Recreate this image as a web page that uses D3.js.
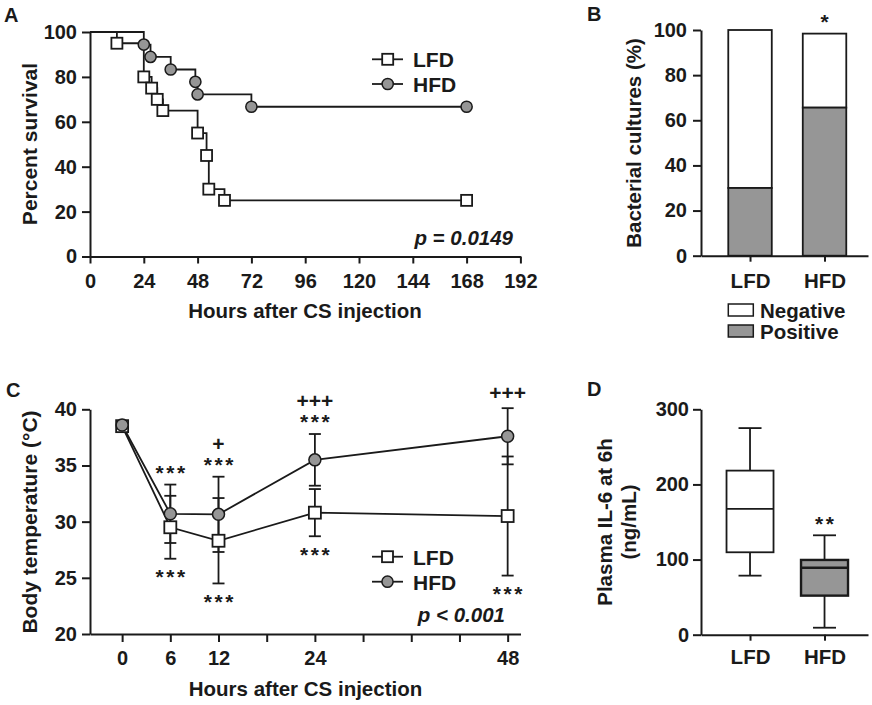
<!DOCTYPE html>
<html><head><meta charset="utf-8">
<script src="https://cdn.jsdelivr.net/npm/d3@7"></script>
<style>
body{margin:0;background:#fff;}
svg text{font-family:"Liberation Sans",Arial,Helvetica,sans-serif;font-weight:bold;fill:#1a1a1a;}
</style></head><body>
<svg id="chart" width="872" height="705"></svg>
<script>
// ---------- Panel A: survival ----------
const survLFDHours = [0, 12, 24, 27.5, 30, 32.5, 48, 52, 53, 60, 168];
const survLFDPct   = [100, 95, 80, 75, 70, 65, 55, 45, 30, 25, 25];
const survHFDHours = [0, 24, 27, 36, 47, 48, 72, 168];
const survHFDPct   = [100, 94.4, 88.9, 83.3, 77.8, 72.2, 66.7, 66.7];
const survTicksX = [0, 24, 48, 72, 96, 120, 144, 168, 192];
const survTicksY = [0, 20, 40, 60, 80, 100];
const survP = "p = 0.0149";

// ---------- Panel B: bacterial cultures ----------
const cultureGroups = ["LFD", "HFD"];
const culturePositive = [30, 65.6];
const cultureNegative = [70, 32.8];
const cultureTicksY = [0, 20, 40, 60, 80, 100];
const cultureSig = ["", "*"];
const cultureLegend = ["Negative", "Positive"];

// ---------- Panel C: body temperature ----------
const tempHours = [0, 6, 12, 24, 48];
const tempLFD   = [38.5, 29.5, 28.3, 30.8, 30.5];
const tempLFDsd = [0.3, 2.8, 3.8, 2.1, 5.3];
const tempHFD   = [38.6, 30.7, 30.65, 35.5, 37.6];
const tempHFDsd = [0.3, 2.6, 3.35, 2.3, 2.5];
const tempTicksX = [0, 6, 12, 18, 24, 30, 36, 42, 48];
const tempTickLabels = [0, 6, 12, 24, 48];
const tempTicksY = [20, 25, 30, 35, 40];
const tempSigAbove = [[], ["***"], ["+", "***"], ["+++", "***"], ["+++"]];
const tempSigBelow = [[], ["***"], ["***"], ["***"], ["***"]];
const tempP = "p < 0.001";

// ---------- Panel D: IL-6 ----------
const il6Groups = ["LFD", "HFD"];
const il6Min    = [78.6, 9.3];
const il6Q1     = [109.7, 52];
const il6Median = [167.4, 89.2];
const il6Q3     = [218.4, 99.5];
const il6Max    = [275, 132.3];
const il6TicksY = [0, 100, 200, 300];
const il6Sig = ["", "**"];

// ---------- styles ----------
const INK = "#1a1a1a";
const GRAY = "#969696";
const svg = d3.select("#chart");
svg.append("rect").attr("width", 872).attr("height", 705).attr("fill", "#fff");

function styleAxis(g, fs) {
  g.attr("font-family", null).attr("font-size", null);
  g.selectAll("path.domain").attr("stroke", INK).attr("stroke-width", 2);
  g.selectAll(".tick line").attr("stroke", INK).attr("stroke-width", 2);
  g.selectAll(".tick text").attr("font-size", fs).attr("fill", INK);
}
function square(g, cx, cy, s) {
  g.append("rect").attr("x", cx - s / 2).attr("y", cy - s / 2).attr("width", s).attr("height", s)
    .attr("fill", "#fff").attr("stroke", INK).attr("stroke-width", 1.8);
}
function circle(g, cx, cy, r) {
  g.append("circle").attr("cx", cx).attr("cy", cy).attr("r", r)
    .attr("fill", GRAY).attr("stroke", INK).attr("stroke-width", 1.5);
}
function label(txt, x, y, fs, opts = {}) {
  const t = svg.append("text").attr("x", x).attr("y", y).attr("font-size", fs).text(txt);
  if (opts.anchor) t.attr("text-anchor", opts.anchor);
  if (opts.rotate) t.attr("transform", `rotate(-90,${x},${y})`);
  if (opts.italic) t.attr("font-style", "italic");
  return t;
}
// significance label: asterisk runs are spaced out as in the original figure
function sig(txt, x, y) {
  if (txt[0] === "*" && txt.length > 1) {
    return label(txt, x + 1.3, y, 21, { anchor: "middle" }).attr("letter-spacing", 2.6);
  }
  return label(txt, x, y, 21, { anchor: "middle" });
}

// ================= Panel A =================
const xA = d3.scaleLinear().domain([0, 192]).range([90, 520.4]);
const yA = d3.scaleLinear().domain([0, 100]).range([256.5, 32]);
const gA = svg.append("g");
gA.append("g").attr("transform", "translate(0,256.5)")
  .call(d3.axisBottom(xA).tickValues(survTicksX).tickSize(7).tickSizeOuter(0).tickPadding(10))
  .call(g => styleAxis(g, 20));
gA.append("g").attr("transform", "translate(90,0)")
  .call(d3.axisLeft(yA).tickValues(survTicksY).tickSize(8).tickSizeOuter(0).tickPadding(5))
  .call(g => styleAxis(g, 20));

const km = d3.line().x(d => xA(d.t)).y(d => yA(d.s)).curve(d3.curveStepAfter);
const lfdKM = survLFDHours.map((t, i) => ({ t, s: survLFDPct[i] }));
const hfdKM = survHFDHours.map((t, i) => ({ t, s: survHFDPct[i] }));
gA.append("path").attr("d", km(lfdKM)).attr("fill", "none").attr("stroke", INK).attr("stroke-width", 1.8);
gA.append("path").attr("d", km(hfdKM)).attr("fill", "none").attr("stroke", INK).attr("stroke-width", 1.8);
lfdKM.slice(1).forEach(d => square(gA, xA(d.t), yA(d.s), 11));
hfdKM.slice(1).forEach(d => circle(gA, xA(d.t), yA(d.s), 5.6));

// legend A
gA.append("line").attr("x1", 372).attr("x2", 403).attr("y1", 59.3).attr("y2", 59.3).attr("stroke", INK).attr("stroke-width", 1.8);
square(gA, 387.7, 59.3, 11);
gA.append("line").attr("x1", 372).attr("x2", 403).attr("y1", 84).attr("y2", 84).attr("stroke", INK).attr("stroke-width", 1.8);
circle(gA, 387.7, 84, 5.6);
label("LFD", 413, 67, 21);
label("HFD", 413, 91.7, 21);
label(survP, 513, 245, 20.5, { anchor: "end", italic: true });
label("Percent survival", 37, 144, 21, { anchor: "middle", rotate: true });
label("Hours after CS injection", 305, 318, 20.5, { anchor: "middle" });
label("A", 4, 22, 20);

// ================= Panel B =================
const xB = d3.scalePoint().domain(cultureGroups).range([701, 868]).padding(0.6208).align(0.53);
const yB = d3.scaleLinear().domain([0, 100]).range([255.7, 30]);
const barW = 43.5;
const gB = svg.append("g");
cultureGroups.forEach((c, i) => {
  const x0 = xB(c) - barW / 2;
  const pos = culturePositive[i], neg = cultureNegative[i];
  gB.append("rect").attr("x", x0).attr("y", yB(pos + neg)).attr("width", barW)
    .attr("height", yB(pos) - yB(pos + neg)).attr("fill", "#fff").attr("stroke", INK).attr("stroke-width", 1.8);
  gB.append("rect").attr("x", x0).attr("y", yB(pos)).attr("width", barW)
    .attr("height", yB(0) - yB(pos)).attr("fill", GRAY).attr("stroke", INK).attr("stroke-width", 1.8);
  if (cultureSig[i]) sig(cultureSig[i], xB(c), yB(pos + neg) - 5);
});
gB.append("g").attr("transform", "translate(0,255.7)")
  .call(d3.axisBottom(xB).tickSize(6).tickSizeOuter(0).tickPadding(11.5))
  .call(g => styleAxis(g, 20.5));
gB.append("g").attr("transform", "translate(701,0)")
  .call(d3.axisLeft(yB).tickValues(cultureTicksY).tickSize(8).tickSizeOuter(0).tickPadding(6))
  .call(g => styleAxis(g, 20));
// legend B
[["#fff", 304], [GRAY, 325]].forEach(([f, y], i) => {
  gB.append("rect").attr("x", 728.3).attr("y", y).attr("width", 25).attr("height", 12)
    .attr("fill", f).attr("stroke", INK).attr("stroke-width", 1.5);
  label(cultureLegend[i], 760, y + 13.5, 20.5);
});
label("Bacterial cultures (%)", 641, 143, 20.5, { anchor: "middle", rotate: true });
label("B", 587, 21, 20);

// ================= Panel C =================
const xC = d3.scaleLinear().domain([-4, 49.6]).range([90, 520.5]);
const yC = d3.scaleLinear().domain([20, 40]).range([634, 409.3]);
const gC = svg.append("g");
gC.append("g").attr("transform", "translate(0,634)")
  .call(d3.axisBottom(xC).tickValues(tempTicksX).tickSize(8).tickSizeOuter(0).tickPadding(8.5)
    .tickFormat(d => tempTickLabels.includes(d) ? d : ""))
  .call(g => styleAxis(g, 20));
gC.append("g").attr("transform", "translate(90,0)")
  .call(d3.axisLeft(yC).tickValues(tempTicksY).tickSize(8).tickSizeOuter(0).tickPadding(5))
  .call(g => styleAxis(g, 20));

const lfdT = tempHours.map((h, i) => ({ h, m: tempLFD[i], sd: tempLFDsd[i] }));
const hfdT = tempHours.map((h, i) => ({ h, m: tempHFD[i], sd: tempHFDsd[i] }));
const tLine = d3.line().x(d => xC(d.h)).y(d => yC(d.m));
gC.append("path").attr("d", tLine(lfdT)).attr("fill", "none").attr("stroke", INK).attr("stroke-width", 1.8);
gC.append("path").attr("d", tLine(hfdT)).attr("fill", "none").attr("stroke", INK).attr("stroke-width", 1.8);
[lfdT, hfdT].forEach(ser => ser.forEach(d => {
  const x = xC(d.h);
  gC.append("line").attr("x1", x).attr("x2", x).attr("y1", yC(d.m - d.sd)).attr("y2", yC(d.m + d.sd))
    .attr("stroke", INK).attr("stroke-width", 1.8);
  [d.m - d.sd, d.m + d.sd].forEach(v => gC.append("line").attr("x1", x - 6).attr("x2", x + 6)
    .attr("y1", yC(v)).attr("y2", yC(v)).attr("stroke", INK).attr("stroke-width", 1.8));
}));
lfdT.forEach(d => square(gC, xC(d.h), yC(d.m), 12));
hfdT.forEach(d => circle(gC, xC(d.h), yC(d.m), 6));

// significance marks
tempHours.forEach((h, i) => {
  const x = xC(h);
  const top = yC(Math.max(tempLFD[i] + tempLFDsd[i], tempHFD[i] + tempHFDsd[i]));
  const bot = yC(Math.min(tempLFD[i] - tempLFDsd[i], tempHFD[i] - tempHFDsd[i]));
  const above = tempSigAbove[i];
  above.forEach((s, k) => {
    const last = above[above.length - 1];
    const base = top - (last[0] === "*" ? 5 : 8) - (above.length - 1 - k) * 21;
    sig(s, x, base);
  });
  tempSigBelow[i].forEach((s, k) => sig(s, x, bot + 25.5 + k * 21));
});

// legend C
gC.append("line").attr("x1", 372).attr("x2", 403).attr("y1", 556.7).attr("y2", 556.7).attr("stroke", INK).attr("stroke-width", 1.8);
square(gC, 387.5, 556.7, 11);
gC.append("line").attr("x1", 372).attr("x2", 403).attr("y1", 581.7).attr("y2", 581.7).attr("stroke", INK).attr("stroke-width", 1.8);
circle(gC, 387.5, 581.7, 5.6);
label("LFD", 413, 565, 21);
label("HFD", 413, 589.5, 21);
label(tempP, 505, 622, 20.5, { anchor: "end", italic: true });
label("Body temperature (°C)", 37, 522, 21, { anchor: "middle", rotate: true });
label("Hours after CS injection", 305.5, 696, 20.5, { anchor: "middle" });
label("C", 6, 397, 20);

// ================= Panel D =================
const xD = d3.scalePoint().domain(il6Groups).range([701, 868]).padding(0.6208).align(0.53);
const yD = d3.scaleLinear().domain([0, 300]).range([634.7, 409.3]);
const gD = svg.append("g");
const boxW = 47, capW = 23;
il6Groups.forEach((c, i) => {
  const x = xD(c);
  const sw = i === 1 ? 2.4 : 1.8;
  gD.append("line").attr("x1", x).attr("x2", x).attr("y1", yD(il6Min[i])).attr("y2", yD(il6Max[i]))
    .attr("stroke", INK).attr("stroke-width", 1.8);
  [il6Min[i], il6Max[i]].forEach(v => gD.append("line").attr("x1", x - capW / 2).attr("x2", x + capW / 2)
    .attr("y1", yD(v)).attr("y2", yD(v)).attr("stroke", INK).attr("stroke-width", 1.8));
  gD.append("rect").attr("x", x - boxW / 2).attr("y", yD(il6Q3[i])).attr("width", boxW)
    .attr("height", yD(il6Q1[i]) - yD(il6Q3[i])).attr("fill", i === 1 ? GRAY : "#fff")
    .attr("stroke", INK).attr("stroke-width", sw);
  gD.append("line").attr("x1", x - boxW / 2).attr("x2", x + boxW / 2).attr("y1", yD(il6Median[i])).attr("y2", yD(il6Median[i]))
    .attr("stroke", INK).attr("stroke-width", sw);
  if (il6Sig[i]) sig(il6Sig[i], x, yD(il6Max[i]) - 4);
});
gD.append("g").attr("transform", "translate(0,634.7)")
  .call(d3.axisBottom(xD).tickSize(6).tickSizeOuter(0).tickPadding(9))
  .call(g => styleAxis(g, 20.5));
gD.append("g").attr("transform", "translate(701,0)")
  .call(d3.axisLeft(yD).tickValues(il6TicksY).tickSize(8).tickSizeOuter(0).tickPadding(4))
  .call(g => styleAxis(g, 20));
label("Plasma IL-6 at 6h", 612, 522, 20.5, { anchor: "middle", rotate: true });
label("(ng/mL)", 636, 522, 20.5, { anchor: "middle", rotate: true });
label("D", 587, 396, 20);
</script>
</body></html>
